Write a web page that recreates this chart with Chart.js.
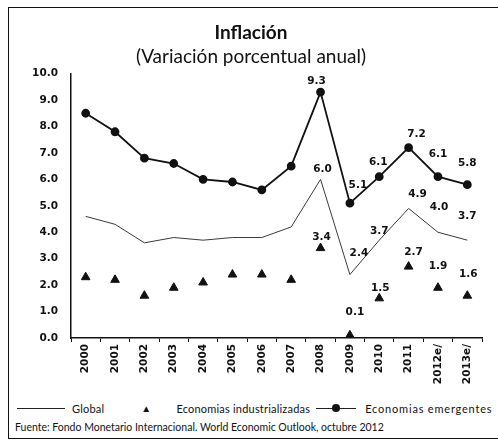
<!DOCTYPE html>
<html>
<head>
<meta charset="utf-8">
<script src="https://cdn.jsdelivr.net/npm/chart.js@4.4.0/dist/chart.umd.min.js"></script>
<style>
  body { margin: 0; background: #fff; }
  #frame { position: absolute; left: 8px; top: 7px; width: 500px; height: 430px; border: 1.5px solid #111; border-right: none; }
  #wrap { position: absolute; left: 0; top: 0; width: 498px; height: 395px; }
  #legend { position: absolute; left: 17px; top: 400px; font-family: Lato, sans-serif; font-size: 11px; color: #111; white-space: nowrap; letter-spacing: 0.2px; }
  #legend span { display: inline-block; vertical-align: middle; }
  .ln { width: 48px; border-top: 1.5px solid #222; }
  #source { position: absolute; left: 15px; top: 421px; font-family: Lato, sans-serif; font-size: 10.5px; color: #111; white-space: nowrap; }
</style>
</head>
<body>
<div id="frame"></div>
<div id="wrap"><canvas id="chart"></canvas></div>
<div id="legend">
  <span class="ln"></span><span style="margin-left:7px">Global</span>
  <span style="margin-left:34px;font-size:10px">&#9650;</span>
  <span style="margin-left:22px">Economias industrializadas</span>
  <span class="ln" style="width:40px;position:relative;margin-left:3px"><span style="position:absolute;left:16px;top:-5px;width:8px;height:8px;border-radius:50%;background:#111"></span></span>
  <span style="margin-left:6px;letter-spacing:0.8px">Economias emergentes</span>
</div>
<div id="source">Fuente: Fondo Monetario Internacional. World Economic Outlook, octubre 2012</div>
<script>
// categories and series
const years = ['2000', '2001', '2002', '2003', '2004', '2005', '2006', '2007', '2008', '2009', '2010', '2011', '2012e/', '2013e/'];
const globalInfl = [4.6, 4.3, 3.6, 3.8, 3.7, 3.8, 3.8, 4.2, 6.0, 2.4, 3.7, 4.9, 4.0, 3.7];
const industrialInfl = [2.3, 2.2, 1.6, 1.9, 2.1, 2.4, 2.4, 2.2, 3.4, 0.1, 1.5, 2.7, 1.9, 1.6];
const emergingInfl = [8.5, 7.8, 6.8, 6.6, 6.0, 5.9, 5.6, 6.5, 9.3, 5.1, 6.1, 7.2, 6.1, 5.8];

// value labels are shown from 2008 on
const firstLabel = 8;
// label offsets (dx, dy) from each point, 2008..2013
const labelOffsets = [
    [[2, -10], [9, -21], [0, -9], [9, -14], [1, -25], [0, -24]],      // global
    [[1, -11], [5, -23], [1, -10], [5, -14], [0, -21], [1, -21]],     // industrial
    [[-4, -11], [8, -18], [-1, -14], [8, -13], [0, -22], [0, -21]]    // emerging
];

const valueLabels = {
    id: 'valueLabels',
    afterDatasetsDraw(chart) {
        const ctx = chart.ctx;
        ctx.save();
        ctx.font = 'bold 10.5px "DejaVu Sans"';
        ctx.fillStyle = '#111';
        ctx.textAlign = 'center';
        ctx.textBaseline = 'middle';
        chart.data.datasets.forEach((ds, i) => {
            const meta = chart.getDatasetMeta(i);
            for (let j = firstLabel; j < ds.data.length; j++) {
                const pt = meta.data[j];
                const off = labelOffsets[i][j - firstLabel];
                ctx.fillText(ds.data[j].toFixed(1), pt.x + off[0], pt.y + off[1]);
            }
        });
        ctx.restore();
    }
};

new Chart(document.getElementById('chart'), {
    type: 'line',
    data: {
        labels: years,
        datasets: [{
            label: 'Global',
            data: globalInfl,
            borderColor: '#3a3a3a',
            borderWidth: 1,
            pointRadius: 0,
            tension: 0
        }, {
            label: 'Economias industrializadas',
            data: industrialInfl,
            showLine: false,
            pointStyle: 'triangle',
            pointRadius: 5,
            backgroundColor: '#111',
            borderColor: '#111'
        }, {
            label: 'Economias emergentes',
            data: emergingInfl,
            borderColor: '#111',
            borderWidth: 1.8,
            pointRadius: 3.5,
            pointBackgroundColor: '#111',
            pointBorderColor: '#111',
            tension: 0
        }]
    },
    options: {
        responsive: true,
        maintainAspectRatio: false,
        animation: false,
        layout: { padding: { top: 10, left: 20, right: 16, bottom: 7 } },
        plugins: {
            legend: { display: false },
            tooltip: { enabled: false },
            title: {
                display: true,
                text: 'Inflación',
                color: '#111',
                font: { family: 'Lato', size: 19, weight: 'bold' },
                padding: { top: 11, bottom: 2 }
            },
            subtitle: {
                display: true,
                text: '(Variación porcentual anual)',
                color: '#111',
                font: { family: 'Lato', size: 19 },
                padding: { top: 0, bottom: 5 }
            }
        },
        scales: {
            x: {
                offset: true,
                grid: { display: true, drawOnChartArea: false, offset: true, tickLength: 4, color: '#111' },
                border: { color: '#111', width: 1.5 },
                ticks: {
                    color: '#111',
                    font: { family: 'DejaVu Sans', size: 10.5, weight: 'bold' },
                    minRotation: 90,
                    maxRotation: 90,
                    autoSkip: false,
                    padding: 2
                },
                afterFit(scale) { scale.height = 50; }
            },
            y: {
                min: 0,
                max: 10,
                grid: { display: false, drawTicks: false },
                border: { color: '#111', width: 1.5 },
                ticks: {
                    stepSize: 1,
                    color: '#111',
                    font: { family: 'DejaVu Sans', size: 10.5, weight: 'bold' },
                    padding: 13,
                    callback: v => v.toFixed(1)
                },
                afterFit(scale) { scale.width = 51; }
            }
        }
    },
    plugins: [valueLabels]
});
</script>
</body>
</html>
